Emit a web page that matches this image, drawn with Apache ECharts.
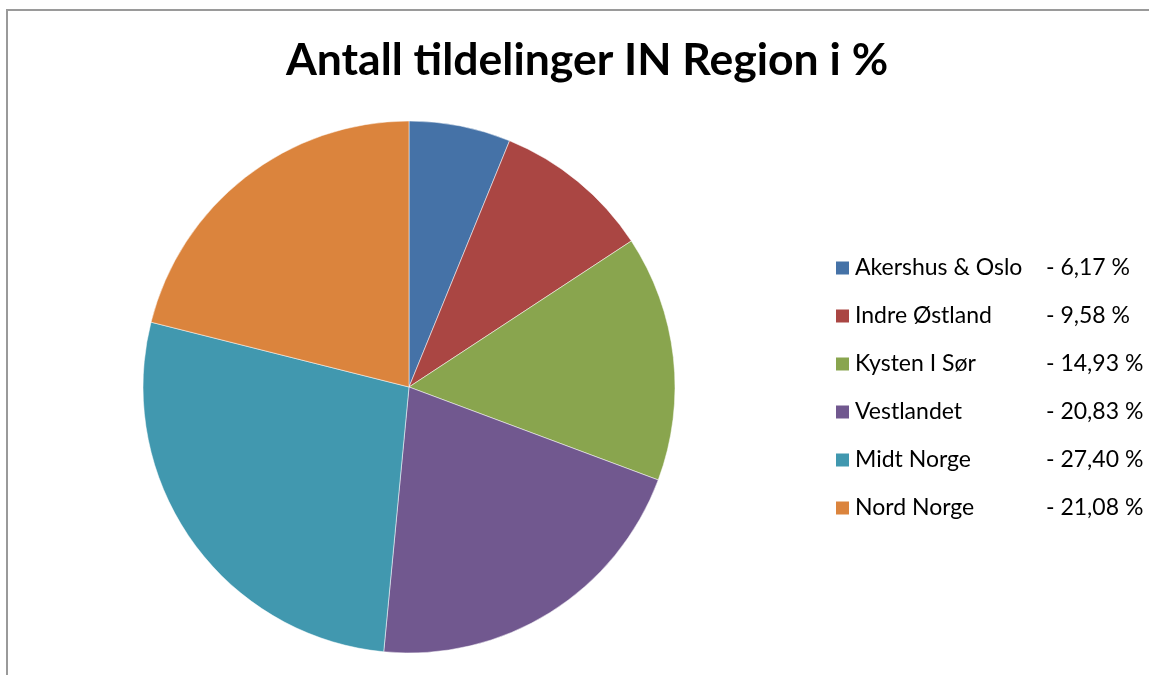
<!DOCTYPE html>
<html>
<head>
<meta charset="utf-8">
<script src="https://cdn.jsdelivr.net/npm/echarts@6/dist/echarts.min.js"></script>
<style>
  html, body { margin: 0; padding: 0; background: #fff; }
  #chart { width: 1149px; height: 675px; }
</style>
</head>
<body>
<div id="chart"></div>
<script>
const regions = ['Akershus & Oslo', 'Indre Østland', 'Kysten I Sør', 'Vestlandet', 'Midt Norge', 'Nord Norge']
const shares = [6.17, 9.58, 14.93, 20.83, 27.40, 21.08]
const colors = ['#4572A7', '#AA4643', '#89A54E', '#71588F', '#4198AF', '#DB843D']

function pct(v) {
    return v.toFixed(2).replace('.', ',')
}

const myChart = echarts.init(document.getElementById('chart'))
const option = {
    animation: false,
    color: colors,
    title: {
        text: 'Antall tildelinger IN Region i %',
        left: 582,
        top: 33,
        textAlign: 'center',
        textStyle: {
            fontFamily: 'Lato',
            fontWeight: 'bold',
            fontSize: 44.5,
            color: '#000'
        }
    },
    legend: {
        orient: 'vertical',
        left: 834,
        top: 256,
        padding: 0,
        itemWidth: 15,
        itemHeight: 15,
        itemGap: 24,
        icon: 'rect',
        formatter: name => {
            const i = regions.indexOf(name)
            return '{n|' + name + '}{v|- ' + pct(shares[i]) + ' %}'
        },
        textStyle: {
            fontFamily: 'Lato',
            fontSize: 23,
            color: '#000',
            lineHeight: 24,
            rich: {
                n: { width: 191, fontFamily: 'Lato', fontSize: 23, color: '#000' },
                v: { fontFamily: 'Lato', fontSize: 23, color: '#000' }
            }
        }
    },
    graphic: [{
        type: 'rect',
        shape: { x: 7, y: 10, width: 1300, height: 800 },
        style: { fill: 'none', stroke: '#9a9a9a', lineWidth: 2 },
        silent: true
    }],
    series: [{
        type: 'pie',
        center: [409, 387],
        radius: 266,
        startAngle: 90,
        clockwise: true,
        label: { show: false },
        labelLine: { show: false },
        itemStyle: { borderColor: '#fff', borderWidth: 0.5 },
        emphasis: { disabled: true },
        data: regions.map((r, i) => ({ name: r, value: shares[i] }))
    }]
}
myChart.setOption(option)
</script>
</body>
</html>
